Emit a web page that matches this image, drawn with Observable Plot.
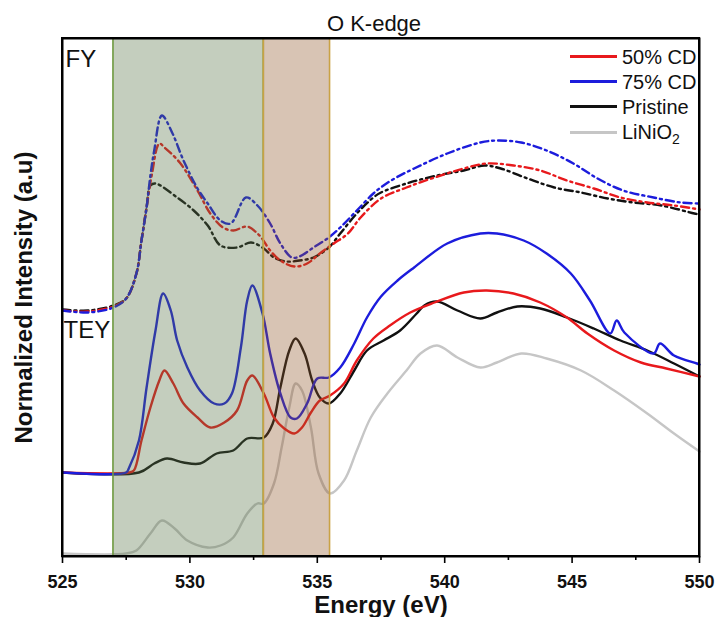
<!DOCTYPE html>
<html>
<head>
<meta charset="utf-8">
<script src="https://cdn.jsdelivr.net/npm/d3@7"></script>
<script src="https://cdn.jsdelivr.net/npm/@observablehq/plot@0.6"></script>
<style>
  html, body { margin: 0; padding: 0; background: #fff; }
  #wrap { position: relative; width: 717px; height: 617px; font-family: "Liberation Sans", Arial, sans-serif; }
  #box { position: absolute; left: 61px; top: 37px; width: 639px; height: 520px; border: 2px solid #000; box-sizing: border-box; pointer-events: none; }
  .legend-row { position: absolute; left: 570px; height: 20px; display: flex; align-items: center; font-size: 20px; line-height: 20px; color: #111; white-space: nowrap; }
  .legend-row .sw { width: 47px; height: 0; border-top: 3px solid; margin-right: 5px; }
  .legend-row sub { font-size: 14px; vertical-align: -5px; line-height: 0; }
</style>
</head>
<body>
<div id="wrap"></div>
<script>
// ---------- data (energy in eV, intensity in a.u.) ----------
const xTicks = [525, 530, 535, 540, 545, 550];
const xMinorTicks = [527.5, 532.5, 537.5, 542.5, 547.5];

// FY (fluorescence yield), dash-dot curves
const fy75E = [525,526,527,527.5,527.9,528.1,528.3,528.45,528.6,528.9,529.3,529.75,530.3,530.7,531.2,531.6,532.2,532.65,533.15,533.55,534.0,534.3,534.85,535.45,535.9,536.55,537.2,537.6,538.1,538.8,540.1,541.4,542.05,543,544,545.05,546,547,548.2,549.25,550];
const fy75I = [2.46,2.44,2.49,2.58,2.83,3.16,3.49,3.81,4.06,4.41,4.24,3.96,3.68,3.53,3.36,3.33,3.59,3.51,3.33,3.13,2.99,3.00,3.09,3.19,3.29,3.46,3.63,3.71,3.79,3.88,4.03,4.14,4.16,4.14,4.06,3.93,3.78,3.66,3.59,3.54,3.53];

const fy50E = [525,526,527,527.5,527.9,528.1,528.3,528.5,528.8,529,529.6,530.3,530.8,531.3,531.7,532.25,532.65,532.8,533.15,533.55,534.1,534.6,535.1,535.65,536.2,536.7,537.5,538.5,539.6,540.75,541.65,542.7,543.75,544.8,545.85,546.9,547.95,549,550];
const fy50I = [2.46,2.45,2.50,2.58,2.83,3.16,3.49,3.81,4.13,4.09,3.94,3.66,3.43,3.29,3.26,3.30,3.23,3.19,3.06,2.96,2.90,2.93,3.03,3.13,3.23,3.39,3.58,3.69,3.79,3.88,3.93,3.91,3.86,3.76,3.68,3.59,3.54,3.51,3.47];

const fyPrE = [525,526,527,527.5,527.9,528.1,528.3,528.45,528.65,529.5,530.15,530.7,531.2,531.85,532.4,532.9,533.3,533.8,534.3,534.85,535.45,535.9,536.55,537.2,537.5,538.5,539.7,540.75,541.55,542.2,543.25,544.3,545.35,546.4,547.4,548.5,549.8,550];
const fyPrI = [2.47,2.46,2.51,2.58,2.83,3.16,3.49,3.71,3.73,3.59,3.46,3.31,3.11,3.09,3.14,3.08,2.99,2.95,2.96,2.99,3.09,3.23,3.43,3.59,3.64,3.73,3.81,3.86,3.91,3.88,3.78,3.69,3.64,3.58,3.54,3.51,3.43,3.42];

// TEY (total electron yield), solid curves
const tey75E = [525,527.5,527.6,528,528.3,528.65,528.95,529.25,529.5,529.9,530.4,530.95,531.35,531.65,532,532.25,532.45,532.85,533.15,533.55,533.95,534.2,534.6,535,535.45,535.9,536.45,536.95,537.5,538.15,538.8,540.1,541.4,542.05,543.1,544,544.95,545.7,546.5,546.75,547.05,548.2,548.45,549,549.9,550];
const tey75I = [0.84,0.84,0.88,1.16,1.69,2.26,2.63,2.46,2.16,1.89,1.66,1.53,1.53,1.63,2.09,2.56,2.71,2.43,2.03,1.63,1.39,1.38,1.53,1.78,1.79,1.89,2.13,2.39,2.60,2.76,2.89,3.13,3.23,3.23,3.16,3.03,2.83,2.56,2.23,2.36,2.24,2.03,2.13,2.01,1.93,1.92];

const tey50E = [525,527.6,527.8,528.1,528.45,528.8,529,529.35,529.75,530.3,530.8,531.35,531.85,532.25,532.45,532.9,533.3,533.7,534.1,534.4,534.75,535.1,535.5,536.05,536.55,537.2,537.85,538.65,539.6,540.75,541.65,542.7,543.75,544.8,545.6,546.65,547.7,548.7,550];
const tey50I = [0.84,0.84,0.86,1.16,1.49,1.76,1.86,1.73,1.53,1.39,1.29,1.34,1.46,1.76,1.81,1.63,1.39,1.28,1.23,1.29,1.44,1.56,1.61,1.73,1.96,2.18,2.31,2.44,2.54,2.64,2.66,2.63,2.54,2.39,2.23,2.06,1.94,1.88,1.80];

const teyPrE = [525,528,528.6,529.1,529.75,530.4,531.05,531.7,532.25,532.9,533.25,533.55,533.9,534.15,534.5,534.8,535.1,535.45,535.9,536.45,536.95,537.6,538.25,538.9,539.2,539.7,540.5,541.4,542.05,542.85,543.75,544.8,545.85,546.9,547.95,549,550];
const teyPrI = [0.84,0.84,0.93,0.98,0.94,0.93,1.03,1.06,1.18,1.19,1.33,1.69,2.06,2.18,2.03,1.76,1.59,1.53,1.63,1.86,2.06,2.16,2.26,2.43,2.51,2.55,2.46,2.38,2.44,2.50,2.48,2.39,2.28,2.16,2.06,1.93,1.80];

const linioE = [525,527.5,527.9,528.45,528.9,529.4,529.9,530.7,531.2,531.7,532.25,532.65,532.9,533.3,533.6,533.9,534.15,534.4,534.75,535.05,535.5,536.05,536.55,537.1,537.75,538.5,539.05,539.7,540.5,541.4,542.05,543,544,545.35,546.65,547.95,549,550];
const linioI = [0.03,0.03,0.06,0.23,0.36,0.28,0.16,0.09,0.11,0.19,0.43,0.53,0.53,0.73,1.09,1.49,1.73,1.66,1.29,0.83,0.63,0.76,1.06,1.39,1.63,1.86,2.03,2.11,1.99,1.89,1.94,2.03,1.98,1.86,1.66,1.43,1.23,1.05];

// shaded energy windows
const regionStart = [527, 532.9];
const regionEnd = [532.9, 535.5];

const legendLabels = ["50% CD", "75% CD", "Pristine", "LiNiO"];
const panelLabels = ["FY", "TEY"];
const titleText = "O K-edge";
const xLabel = "Energy (eV)";
const yLabel = "Normalized Intensity (a.u)";

// ---------- styles ----------
const RED = "#e8191c", BLUE = "#1c1cdc", BLACK = "#111111", GRAY = "#c6c6c6";
const legendColors = [RED, BLUE, BLACK, GRAY];
const regionFill = ["#567345", "#905628"];
const regionStroke = ["#6e9a40", "#c9a245"];
const xDomain = [525, 550];
const yDomain = [0, 5.18];

const toRows = (E, I) => E.map((e, i) => ({e, v: I[i]}));
const solid = (E, I, color) => Plot.line(toRows(E, I), {x: "e", y: "v", stroke: color, strokeWidth: 2.4, curve: "catmull-rom"});
const dashdot = (E, I, color) => Plot.line(toRows(E, I), {x: "e", y: "v", stroke: color, strokeWidth: 2.4, curve: "catmull-rom", strokeDasharray: "8,4,2,4"});

const regions = regionStart.map((s, i) => ({s, t: regionEnd[i], fill: regionFill[i], stroke: regionStroke[i]}));

const chart = Plot.plot({
  width: 717,
  height: 617,
  marginTop: 38,
  marginBottom: 61,
  marginLeft: 62,
  marginRight: 18,
  x: {domain: xDomain},
  y: {domain: yDomain, axis: null},
  style: {fontFamily: "'Liberation Sans', Arial, sans-serif", background: "white", color: "#111"},
  marks: [
    solid(linioE, linioI, GRAY),
    solid(teyPrE, teyPrI, BLACK),
    solid(tey50E, tey50I, RED),
    solid(tey75E, tey75I, BLUE),
    dashdot(fyPrE, fyPrI, BLACK),
    dashdot(fy50E, fy50I, RED),
    dashdot(fy75E, fy75I, BLUE),
    Plot.rect(regions, {x1: "s", x2: "t", y1: () => yDomain[0], y2: () => yDomain[1], fill: d => d.fill, fillOpacity: 0.35, stroke: d => d.stroke, strokeWidth: 1.6}),
    Plot.frame({stroke: "#000", strokeWidth: 2}),
    Plot.axisX({ticks: xTicks, tickSize: 7, tickPadding: 12, fontSize: 18, fontWeight: "bold", label: null, strokeWidth: 1.6, stroke: "#000"}),
    Plot.axisX({ticks: xMinorTicks, tickSize: 4, tickFormat: () => "", label: null, strokeWidth: 1.6, stroke: "#000"}),
    Plot.text([titleText], {text: d => d, frameAnchor: "top", dx: -7, dy: -8, lineAnchor: "bottom", fontSize: 22, fill: "#111"}),
    Plot.text([panelLabels[0]], {text: d => d, frameAnchor: "top-left", textAnchor: "start", lineAnchor: "bottom", dx: 3, dy: 28.5, fontSize: 24, fill: "#111"}),
    Plot.text([panelLabels[1]], {text: d => d, frameAnchor: "top-left", textAnchor: "start", lineAnchor: "bottom", dx: 1, dy: 299, fontSize: 24, fill: "#111"}),
    Plot.text([xLabel], {text: d => d, frameAnchor: "bottom", lineAnchor: "bottom", dy: 56, fontSize: 24, fontWeight: "bold", fill: "#111"}),
    Plot.text([yLabel], {text: d => d, frameAnchor: "left", textAnchor: "middle", rotate: -90, dx: -38, fontSize: 24, fontWeight: "bold", fill: "#111"})
  ]
});

const wrap = document.getElementById("wrap");
wrap.append(chart);

// plot box outline (styling only)
const box = document.createElement("div");
box.id = "box";
wrap.append(box);

// legend (HTML overlay, top-right of the frame)
const legendTops = [46.5, 71.5, 96.5, 122];
legendLabels.forEach((lab, i) => {
  const row = document.createElement("div");
  row.className = "legend-row";
  row.style.top = legendTops[i] + "px";
  const sw = document.createElement("span");
  sw.className = "sw";
  sw.style.borderTopColor = legendColors[i];
  row.append(sw);
  const t = document.createElement("span");
  t.textContent = lab;
  row.append(t);
  if (lab === "LiNiO") {
    const sub = document.createElement("sub");
    sub.textContent = "2";
    t.append(sub);
  }
  wrap.append(row);
});
</script>
</body>
</html>
